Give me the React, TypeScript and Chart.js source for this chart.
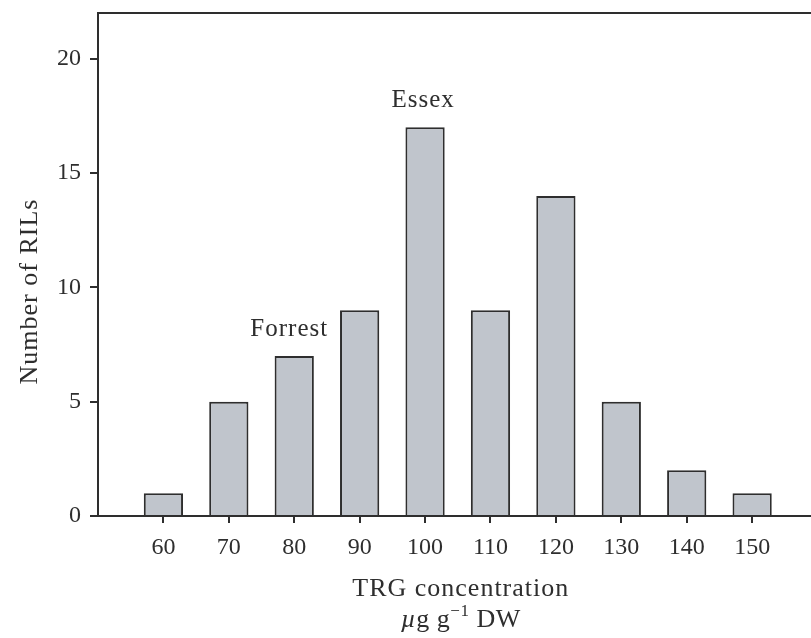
import { useEffect, useRef } from 'react';
import { Chart, registerables } from 'chart.js';

Chart.register(...registerables);

// ---- data ----
const concentrations = [60, 70, 80, 90, 100, 110, 120, 130, 140, 150];
const rilCounts = [1, 5, 7, 9, 17, 9, 14, 5, 2, 1];
const xTickValues = [60, 70, 80, 90, 100, 110, 120, 130, 140, 150];
const yTickValues = [0, 5, 10, 15, 20];
const cultivarNames = ['Forrest', 'Essex'];
const cultivarConcentrations = [80, 100];
const cultivarCounts = [7, 17];
const xTitleLine1 = 'TRG concentration';
const xTitleUnitParts = ['\u00b5', 'g g', '\u22121', ' DW'];
const yTitle = 'Number of RILs';

// ---- style ----
const FONT = "'Liberation Serif', 'DejaVu Serif', serif";
const INK = '#2e2e2e';
const BAR_FILL = '#c0c5cc';
const W = 811;
const H = 638;

const textPlugin = {
  id: 'customTexts',
  afterDraw(chart: any) {
    const { ctx, chartArea, scales } = chart;
    const x = scales.x;
    const y = scales.y;
    ctx.save();

    // top frame line
    ctx.strokeStyle = INK;
    ctx.lineWidth = 2;
    ctx.beginPath();
    ctx.moveTo(chartArea.left - 1, chartArea.top);
    ctx.lineTo(chartArea.right, chartArea.top);
    ctx.stroke();

    ctx.fillStyle = INK;
    ctx.textBaseline = 'alphabetic';

    // cultivar annotations
    const shifts = [-5, -2];
    ctx.font = `25px ${FONT}`;
    (ctx as any).letterSpacing = '1px';
    ctx.textAlign = 'center';
    cultivarNames.forEach((name, i) => {
      const px = x.getPixelForValue(cultivarConcentrations[i]) + shifts[i];
      const py = y.getPixelForValue(cultivarCounts[i]) - 20;
      ctx.fillText(name, px, py);
    });

    // y title
    ctx.save();
    ctx.font = `26px ${FONT}`;
    (ctx as any).letterSpacing = '1px';
    ctx.translate(37, (chartArea.top + chartArea.bottom) / 2 + 27);
    ctx.rotate(-Math.PI / 2);
    ctx.textAlign = 'center';
    ctx.fillText(yTitle, 0, 0);
    ctx.restore();

    // x title line 1
    const xc = x.getPixelForValue(105) + 3;
    ctx.font = `26px ${FONT}`;
    (ctx as any).letterSpacing = '1px';
    ctx.textAlign = 'center';
    ctx.fillText(xTitleLine1, xc, chartArea.bottom + 80);

    // x title line 2 (unit)
    ctx.textAlign = 'left';
    (ctx as any).letterSpacing = '0.5px';
    const fonts = [
      `italic 26px ${FONT}`,
      `26px ${FONT}`,
      `17px ${FONT}`,
      `26px ${FONT}`,
    ];
    const rises = [0, 0, 11, 0];
    let total = 0;
    const widths = xTitleUnitParts.map((p, i) => {
      ctx.font = fonts[i];
      const w = ctx.measureText(p).width;
      total += w;
      return w;
    });
    let cx = xc - total / 2;
    const base = chartArea.bottom + 111;
    xTitleUnitParts.forEach((p, i) => {
      ctx.font = fonts[i];
      ctx.fillText(p, cx, base - rises[i]);
      cx += widths[i];
    });
    (ctx as any).letterSpacing = '0px';
    ctx.restore();
  },
};

export default function App() {
  const ref = useRef<HTMLCanvasElement | null>(null);

  useEffect(() => {
    if (!ref.current) return;
    Chart.defaults.font.family = FONT;
    const chart = new Chart(ref.current, {
      type: 'bar',
      data: {
        datasets: [
          {
            data: concentrations.map((c, i) => ({ x: c, y: rilCounts[i] })),
            backgroundColor: BAR_FILL,
            borderColor: INK,
            borderWidth: 2,
            barPercentage: 0.6,
            categoryPercentage: 1,
          },
        ],
      },
      options: {
        animation: false,
        responsive: false,
        devicePixelRatio: 1,
        layout: { padding: { top: 13, left: 0, right: 0, bottom: 0 } },
        plugins: {
          legend: { display: false },
          tooltip: { enabled: false },
          title: { display: false },
        },
        scales: {
          x: {
            type: 'linear',
            position: 'bottom',
            offset: false,
            min: 50,
            max: 159,
            afterBuildTicks: (scale: any) => {
              scale.ticks = xTickValues.map((v) => ({ value: v }));
            },
            afterFit: (scale: any) => {
              scale.height = 122;
              scale.paddingLeft = 0;
              scale.paddingRight = 0;
            },
            ticks: {
              font: { size: 24, family: FONT },
              color: INK,
              padding: 10,
              maxRotation: 0,
              autoSkip: false,
            },
            grid: {
              display: true,
              drawOnChartArea: false,
              drawTicks: true,
              tickLength: 7,
              color: INK,
              lineWidth: 2,
              offset: false,
            },
            border: { display: true, color: INK, width: 2 },
          },
          y: {
            type: 'linear',
            min: 0,
            max: 22,
            afterBuildTicks: (scale: any) => {
              scale.ticks = yTickValues.map((v) => ({ value: v }));
            },
            afterFit: (scale: any) => {
              scale.width = 98;
              scale.paddingTop = 0;
              scale.paddingBottom = 0;
            },
            ticks: {
              font: { size: 24, family: FONT },
              color: INK,
              padding: 9,
            },
            grid: {
              display: true,
              drawOnChartArea: false,
              drawTicks: true,
              tickLength: 8,
              color: INK,
              lineWidth: 2,
            },
            border: { display: true, color: INK, width: 2 },
          },
        },
      } as any,
      plugins: [textPlugin],
    });
    return () => chart.destroy();
  }, []);

  return (
    <div style={{ position: 'absolute', left: 0, top: 0, width: W, height: H, background: '#fff' }}>
      <canvas ref={ref} width={W} height={H} style={{ display: 'block', width: W, height: H }} />
    </div>
  );
}
